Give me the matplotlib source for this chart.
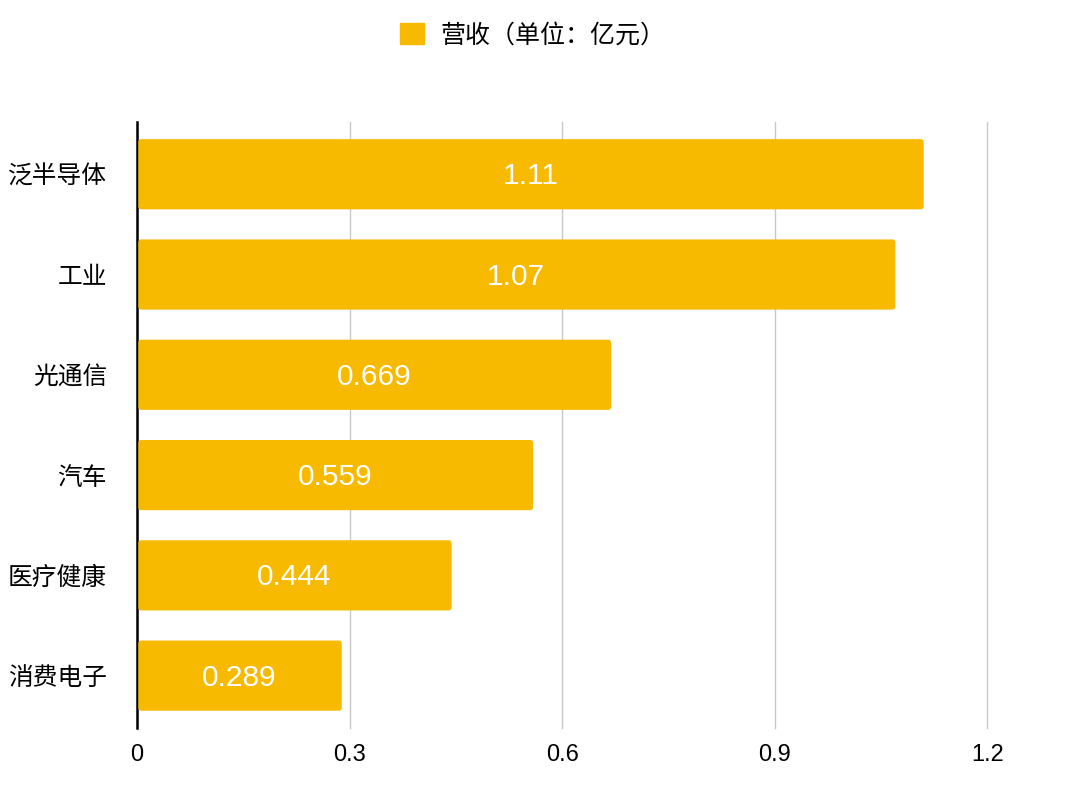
import matplotlib.pyplot as plt
from matplotlib.patches import Patch, FancyBboxPatch

plt.rcParams['font.family'] = ['Liberation Sans', 'Noto Sans CJK SC']

# data
categories = ['泛半导体', '工业', '光通信', '汽车', '医疗健康', '消费电子']
revenue = [1.11, 1.07, 0.669, 0.559, 0.444, 0.289]
value_labels = ['1.11', '1.07', '0.669', '0.559', '0.444', '0.289']
xticks = [0, 0.3, 0.6, 0.9, 1.2]
xtick_labels = ['0', '0.3', '0.6', '0.9', '1.2']
legend_label = '营收（单位：亿元）'

bar_color = '#F7BA00'

fig = plt.figure(figsize=(10.78, 7.98), dpi=100)
ax = fig.add_axes([0.127, 0.088, 0.789, 0.759])

ypos = list(range(len(categories)))
bars = ax.barh(ypos, revenue, height=0.7, color=bar_color, zorder=3)
# swap the plain rectangles for slightly rounded ones
for b in bars:
    x0, y0 = b.get_x() + 0.002, b.get_y()
    w, h = b.get_width() - 0.002, b.get_height()
    b.set_visible(False)
    ax.add_patch(FancyBboxPatch((x0, y0), w, h,
                                boxstyle='round,pad=0,rounding_size=0.004',
                                mutation_aspect=7.1, facecolor=bar_color,
                                edgecolor='none', zorder=3))

for y, v, lab in zip(ypos, revenue, value_labels):
    ax.text(v / 2, y + 0.02, lab, ha='center', va='center', color='white',
            fontsize=21.5, zorder=4)

ax.set_ylim(len(categories) - 0.5 + 0.02, -0.5 - 0.02)
ax.set_yticks(ypos)
ax.set_yticklabels(categories, fontsize=17.8)
ax.set_xlim(0, 1.2)
ax.set_xticks(xticks)
ax.set_xticklabels(xtick_labels, fontsize=17)

ax.grid(axis='x', color='#C8C8C8', linewidth=1, zorder=0)
for gl in ax.get_xgridlines():
    gl.set_clip_on(False)
for s in ['top', 'right', 'bottom']:
    ax.spines[s].set_visible(False)
ax.spines['left'].set_linewidth(1.8)
ax.spines['left'].set_color('black')
ax.tick_params(axis='x', length=0, pad=12)
ax.tick_params(axis='y', length=0, pad=21.5)

handle = Patch(color=bar_color)
fig.legend([handle], [legend_label], loc='center', bbox_to_anchor=(0.494, 0.956),
           frameon=False, fontsize=18, handlelength=0.95, handleheight=0.95,
           handletextpad=0.66)

fig.savefig('out.png', dpi=100)
